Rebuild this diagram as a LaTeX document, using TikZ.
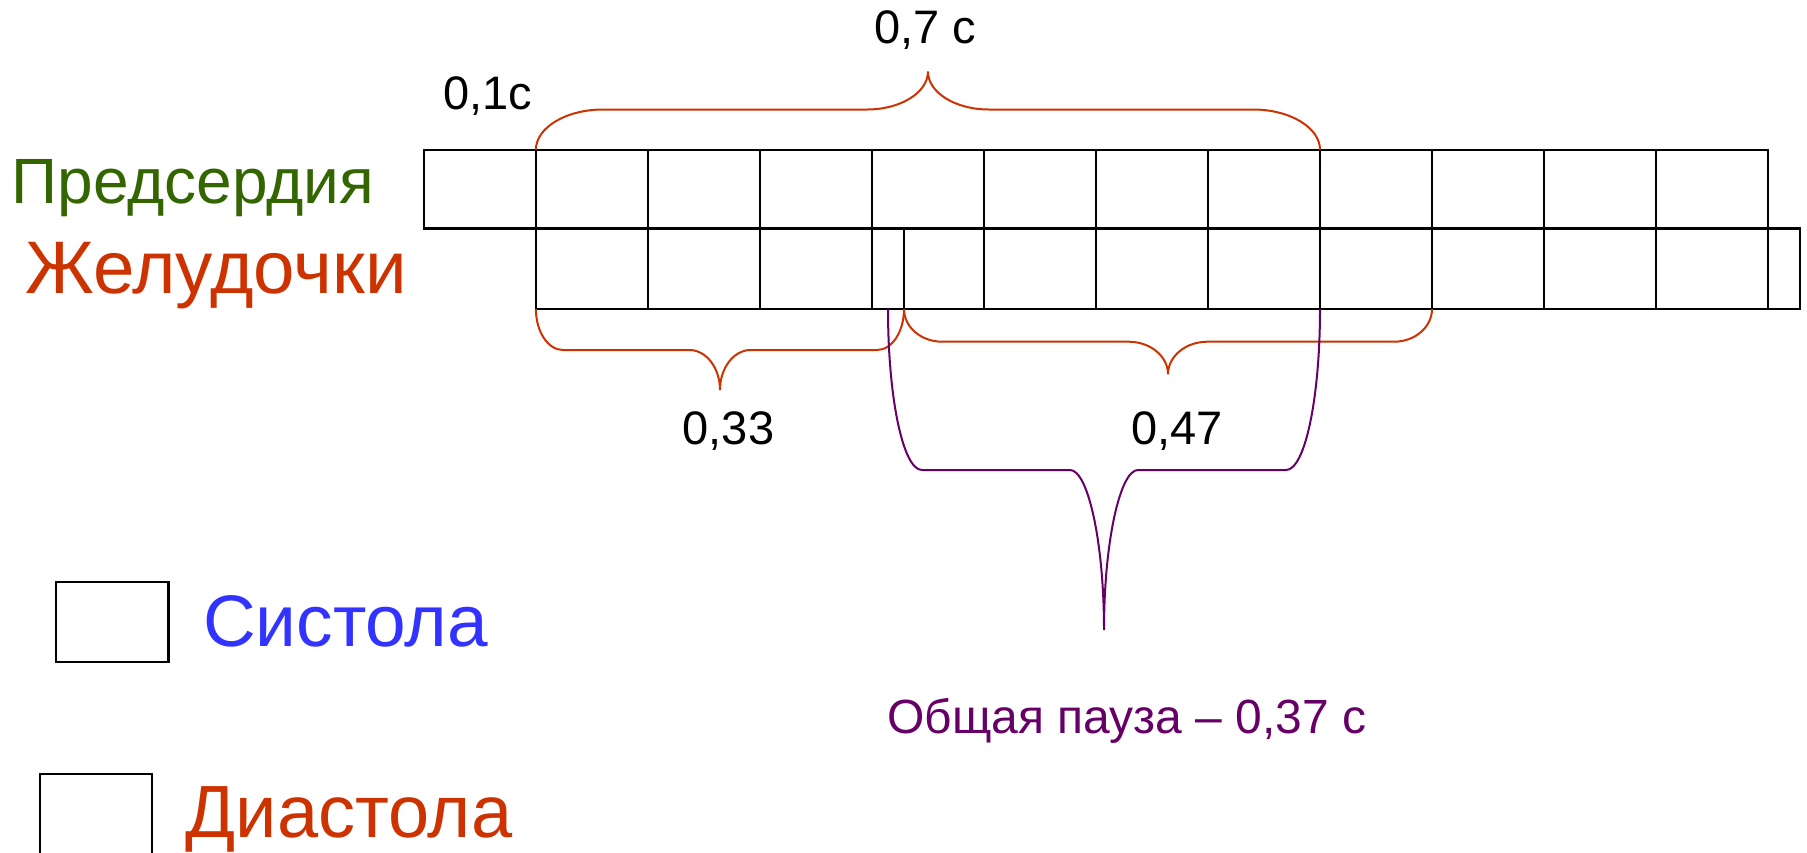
\documentclass[tikz,border=0pt]{standalone}
\usepackage{fontspec}
\setmainfont{Liberation Sans}
\definecolor{grn}{RGB}{51,102,0}
\definecolor{orng}{RGB}{204,51,0}
\definecolor{blu}{RGB}{51,51,255}
\definecolor{purp}{RGB}{102,0,102}
\tikzset{
  cell/.style={draw=black, line width=2.3pt},
  bracea/.style={draw=orng, line width=2pt},
  braceb/.style={draw=purp, line width=2pt},
  lbl/.style={inner sep=0pt, anchor=base},
  numlbl/.style={lbl, font=\fontsize{47pt}{52pt}\selectfont},
}
\begin{document}
\begin{tikzpicture}[x=1pt,y=-1pt]
\useasboundingbox (0,0) rectangle (1807,852);
% grid: top row (atria)
\draw[cell] (423.7,149.8) rectangle (1768.2,228.5);
\foreach \i in {1,...,11} \draw[cell] (423.7+112.04*\i,149.8) -- (423.7+112.04*\i,228.5);
% bottom row (ventricles)
\draw[cell] (535.9,228.5) rectangle (1799.9,309);
\foreach \i in {2,...,12} \draw[cell] (423.7+112.04*\i,228.5) -- (423.7+112.04*\i,309);
\draw[cell] (904,228.5) -- (904,309);
% named ends
\coordinate (t1) at (535.9,149.8);
\coordinate (t8) at (1320,149.8);
\coordinate (b1) at (535.9,309);
\coordinate (bs) at (904,309);
\coordinate (b9) at (1432,309);
\coordinate (pl) at (888,309);
\coordinate (pr) at (1320,309);
% brace 0,7 c
\draw[bracea] (t1) .. controls (535.9,127.6) and (566,109.5) .. (603,109.5) -- (867,109.5)
  .. controls (900.7,109.5) and (927.95,92.5) .. (927.95,71.5)
  .. controls (927.95,92.5) and (955.2,109.5) .. (988.9,109.5) -- (1253,109.5)
  .. controls (1290,109.5) and (1320,127.6) .. (t8);
% brace 0,33
\draw[bracea] (b1) .. controls (535.9,331.6) and (548,350) .. (563,350) -- (689.4,350)
  .. controls (706.3,350) and (720,368) .. (720,390)
  .. controls (720,368) and (733.7,350) .. (750.6,350) -- (877,350)
  .. controls (892,350) and (904,331.6) .. (bs);
% brace 0,47
\draw[bracea] (bs) .. controls (904,327) and (921,341.7) .. (942,341.7) -- (1128.6,341.7)
  .. controls (1150.3,341.7) and (1168,356.3) .. (1168,374.3)
  .. controls (1168,356.3) and (1185.7,341.7) .. (1207.4,341.7) -- (1394,341.7)
  .. controls (1415,341.7) and (1432,327) .. (b9);
% purple brace (pause)
\draw[braceb] (pl) .. controls (888,398) and (903,470) .. (922,470) -- (1070,470)
  .. controls (1088,470) and (1104,542) .. (1104,630)
  .. controls (1104,542) and (1120,470) .. (1138,470) -- (1286,470)
  .. controls (1305,470) and (1320,398) .. (pr);
% labels
\node[lbl, text=grn, font=\fontsize{64pt}{70pt}\selectfont] (atr) at (193,203.3) {Предсердия};
\node[lbl, text=orng, font=\fontsize{74.5pt}{80pt}\selectfont] (ven) at (216,293.3) {Желудочки};
\node[numlbl] (l07) at (925,43.3) {0,7 с};
\node[numlbl] (l01) at (487.5,109.3) {0,1с};
\node[numlbl] (l033) at (728.5,444) {0,33};
\node[numlbl] (l047) at (1177,444) {0,47};
\node[lbl, text=purp, font=\fontsize{48pt}{52pt}\selectfont] (pause) at (1127,733) {Общая пауза – 0,37 с};
% legend
\draw[cell] (55.9,581.7) rectangle (168.4,661.7);
\draw[cell] (39.8,774) rectangle (152.3,870);
\node[lbl, text=blu, font=\fontsize{73pt}{80pt}\selectfont] (sys) at (345.4,646) {Систола};
\node[lbl, text=orng, font=\fontsize{74pt}{80pt}\selectfont] (dia) at (349,837.3) {Диастола};
\end{tikzpicture}
\end{document}
